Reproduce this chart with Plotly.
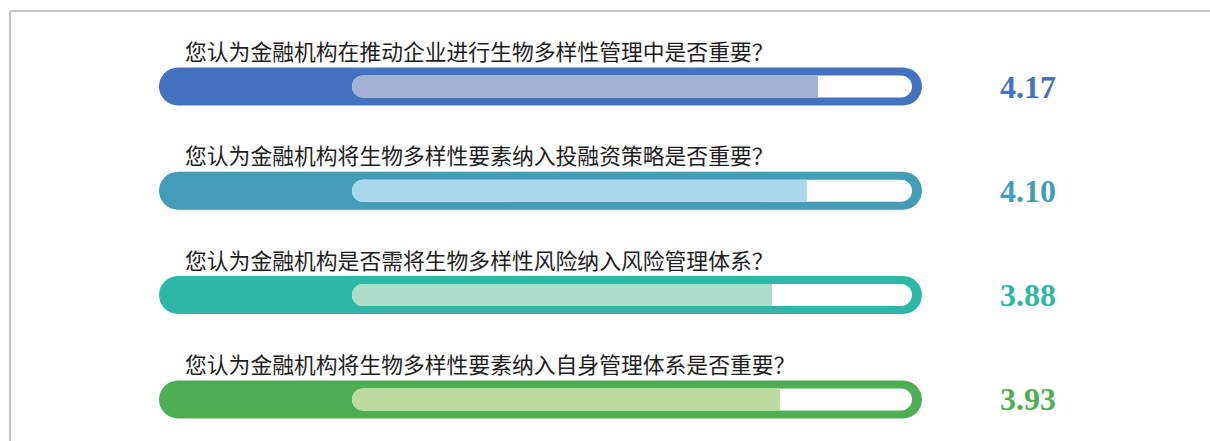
import plotly.graph_objects as go

# Survey questions and their average scores
questions = [
    "您认为金融机构在推动企业进行生物多样性管理中是否重要？",
    "您认为金融机构将生物多样性要素纳入投融资策略是否重要？",
    "您认为金融机构是否需将生物多样性风险纳入风险管理体系？",
    "您认为金融机构将生物多样性要素纳入自身管理体系是否重要？",
]
scores = [4.17, 4.10, 3.88, 3.93]

# Row palettes: frame / score colour and lighter fill colour
frame_colors = ["#4472C1", "#449DB7", "#2FB7A6", "#4FAE54"]
fill_colors = ["#A2B0D5", "#A8D8EC", "#ADDCCB", "#BDD9A0"]

W, H = 1210, 441

# Axis scaling (pixels per unit), so that pixel-sized decorations line up
X_ORIGIN_PX = 159
X_PX_PER_UNIT = 158
Y_FIRST_PX = 86.5
Y_PX_PER_ROW = 104.3

x_range = [-X_ORIGIN_PX / X_PX_PER_UNIT, (W - X_ORIGIN_PX) / X_PX_PER_UNIT]
y_range = [(H - Y_FIRST_PX) / Y_PX_PER_ROW, -Y_FIRST_PX / Y_PX_PER_ROW]

rows = list(range(len(questions)))

# Pill geometry (pixels, relative to x=0 on the score axis)
OUTER_LEN, OUTER_R = 763, 19
TRACK_START, TRACK_END, TRACK_R = 193, 753, 11
cap_center = (TRACK_START + TRACK_R) / X_PX_PER_UNIT


def pill(x0, x1, r):
    c = 0.5523 * r
    a, b = x0 + r, x1 - r
    return (
        f"M{a},{-r} L{b},{-r} C{b + c},{-r} {x1},{-c} {x1},0 "
        f"C{x1},{c} {b + c},{r} {b},{r} L{a},{r} "
        f"C{a - c},{r} {x0},{c} {x0},0 C{x0},{-c} {a - c},{-r} {a},{-r} Z"
    )


shapes = []
annotations = []
for i, row in enumerate(rows):
    common = dict(xref="x", yref="y", xsizemode="pixel", ysizemode="pixel",
                  xanchor=0, yanchor=row, layer="below")
    # coloured outer frame
    shapes.append(dict(type="path", path=pill(0, OUTER_LEN, OUTER_R),
                       fillcolor=frame_colors[i], line=dict(width=0), **common))
    # white inner track
    shapes.append(dict(type="path", path=pill(TRACK_START, TRACK_END, TRACK_R),
                       fillcolor="white", line=dict(width=0), **common))
    # rounded left cap of the score fill
    shapes.append(dict(type="circle", x0=TRACK_START, x1=TRACK_START + 2 * TRACK_R,
                       y0=-TRACK_R, y1=TRACK_R, fillcolor=fill_colors[i],
                       line=dict(width=0), **common))

    annotations.append(dict(
        text=questions[i], xref="paper", x=183 / W, xanchor="left",
        yref="y", y=row, yshift=36, yanchor="middle", showarrow=False,
        font=dict(family="Noto Sans CJK SC", size=21.8, color="#1e1e1e"),
    ))
    annotations.append(dict(
        text=f"{scores[i]:.2f}", xref="paper", x=1028 / W, xanchor="center",
        yref="y", y=row, yshift=0, yanchor="middle", showarrow=False,
        font=dict(family="Liberation Serif", size=32, color=frame_colors[i],
                  weight="bold"),
    ))

# Frame lines along the top and left edges
top_y = 1 - 11 / H
shapes.append(dict(type="line", xref="paper", yref="paper", x0=10 / W, x1=1,
                   y0=top_y, y1=top_y, line=dict(color="#C4C4C4", width=2)))
shapes.append(dict(type="line", xref="paper", yref="paper", x0=10 / W, x1=10 / W,
                   y0=top_y, y1=0, line=dict(color="#C4C4C4", width=2)))

fig = go.Figure(go.Bar(
    y=rows,
    x=[s - cap_center for s in scores],
    base=cap_center,
    orientation="h",
    width=(2 * TRACK_R) / Y_PX_PER_ROW,
    marker=dict(color=fill_colors, line=dict(width=0)),
    hoverinfo="skip",
))

fig.update_layout(
    width=W, height=H,
    margin=dict(l=0, r=0, t=0, b=0),
    paper_bgcolor="white", plot_bgcolor="white",
    showlegend=False,
    xaxis=dict(range=x_range, visible=False, fixedrange=True),
    yaxis=dict(range=y_range, visible=False, fixedrange=True),
    shapes=shapes,
    annotations=annotations,
)

fig.write_html("out.html")
